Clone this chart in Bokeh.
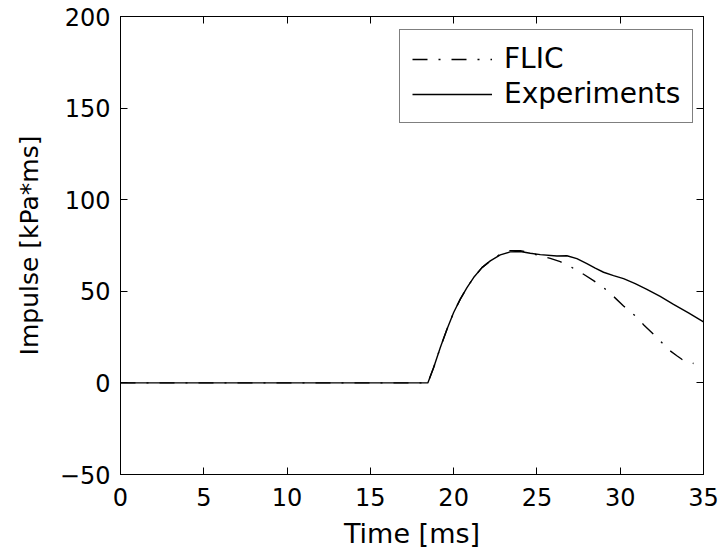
from bokeh.plotting import figure
from bokeh.models import LinearAxis, FixedTicker, Legend, LegendItem, Range1d
from bokeh.embed import file_html
from bokeh.resources import INLINE

# Data
exp_t = [0, 18.45, 18.8, 19.2, 19.6, 20.0, 20.4, 20.8, 21.2, 21.7, 22.2, 22.8, 23.4,
         24.0, 24.6, 25.2, 26.2, 26.8, 27.4, 28.0, 28.5, 29.0, 29.6, 30.2, 30.9,
         31.6, 32.4, 33.2, 34.1, 35.0]
exp_v = [0, 0, 8.4, 19.3, 29.3, 38.4, 45.7, 52.0, 57.5, 62.9, 66.6, 69.9, 71.5,
         71.7, 70.8, 70.0, 69.3, 69.4, 67.8, 65.1, 62.6, 60.4, 58.6, 56.9, 54.2,
         51.1, 47.2, 42.9, 38.2, 33.3]

flic_t = [0, 18.45, 18.8, 19.2, 19.6, 20.0, 20.4, 20.8, 21.2, 21.7, 22.2, 22.8, 23.4,
          24.0, 24.6, 25.2, 25.8, 26.4, 27.1, 27.8, 28.4, 29.0, 29.6, 30.2, 30.9,
          31.4, 32.0, 32.5, 33.0, 33.4, 33.7, 34.0, 34.4]
flic_v = [0, 0, 8.4, 19.3, 29.3, 38.4, 45.7, 52.0, 57.5, 62.9, 66.6, 70.3, 72.2,
          72.2, 71.0, 69.3, 68.0, 66.2, 63.0, 59.3, 55.8, 52.0, 47.2, 42.0, 36.6,
          31.8, 26.6, 22.0, 17.5, 14.8, 12.9, 11.6, 10.6]

x_ticks = [0, 5, 10, 15, 20, 25, 30, 35]
y_ticks = [-50, 0, 50, 100, 150, 200]
y_tick_labels = {-50: "\u221250", 0: "0", 50: "50", 100: "100", 150: "150", 200: "200"}

FONT = "DejaVu Sans"

p = figure(width=723, height=554, output_backend="svg", toolbar_location=None,
           x_range=Range1d(0, 35), y_range=Range1d(-50, 200),
           x_axis_location=None, y_axis_location=None,
           min_border_left=120, min_border_right=20, min_border_top=16, min_border_bottom=80)
p.xgrid.visible = False
p.ygrid.visible = False
p.outline_line_color = "black"
p.outline_line_width = 1
p.background_fill_color = "white"
p.border_fill_color = "white"

r_flic = p.line(flic_t, flic_v, line_color="black", line_width=1.4, line_dash="15 11 2 11")
r_exp = p.line(exp_t, exp_v, line_color="black", line_width=1.4)


def style_axis(ax, ticks, show_labels):
    ax.ticker = FixedTicker(ticks=ticks)
    ax.minor_tick_line_color = None
    ax.major_tick_in = 7
    ax.major_tick_out = 0
    ax.major_tick_line_color = "black"
    ax.axis_line_color = "black"
    if show_labels:
        ax.major_label_text_font = FONT
        ax.major_label_text_font_size = "24px"
        ax.major_label_text_color = "black"
    else:
        ax.major_label_overrides = {t: "" for t in ticks}
        ax.major_label_standoff = 0


xb = LinearAxis(axis_label="Time [ms]")
style_axis(xb, x_ticks, True)
xb.major_label_standoff = 13
xb.axis_label_text_font = FONT
xb.axis_label_text_font_size = "27px"
xb.axis_label_text_font_style = "normal"
xb.axis_label_text_color = "black"
xb.axis_label_standoff = 9
p.add_layout(xb, "below")

yl = LinearAxis(axis_label="Impulse [kPa*ms]")
style_axis(yl, y_ticks, True)
yl.major_label_overrides = y_tick_labels
yl.major_label_standoff = 10
yl.axis_label_text_font = FONT
yl.axis_label_text_font_size = "25px"
yl.axis_label_text_font_style = "normal"
yl.axis_label_text_color = "black"
yl.axis_label_standoff = 13
p.add_layout(yl, "left")

xt = LinearAxis()
style_axis(xt, x_ticks, False)
p.add_layout(xt, "above")

yr = LinearAxis()
style_axis(yr, y_ticks, False)
p.add_layout(yr, "right")

legend = Legend(items=[LegendItem(label="FLIC", renderers=[r_flic]),
                       LegendItem(label="Experiments", renderers=[r_exp])],
                location=(279, 351))
legend.label_text_font = FONT
legend.label_text_font_size = "28px"
legend.label_text_color = "black"
legend.glyph_width = 80
legend.glyph_height = 28
legend.label_height = 28
legend.label_standoff = 12
legend.padding = 12
legend.spacing = 2
legend.margin = 0
legend.border_line_color = "black"
legend.border_line_width = 1
legend.background_fill_color = "white"
legend.background_fill_alpha = 1
p.add_layout(legend, "center")

open("out.html", "w").write(file_html(p, INLINE))
